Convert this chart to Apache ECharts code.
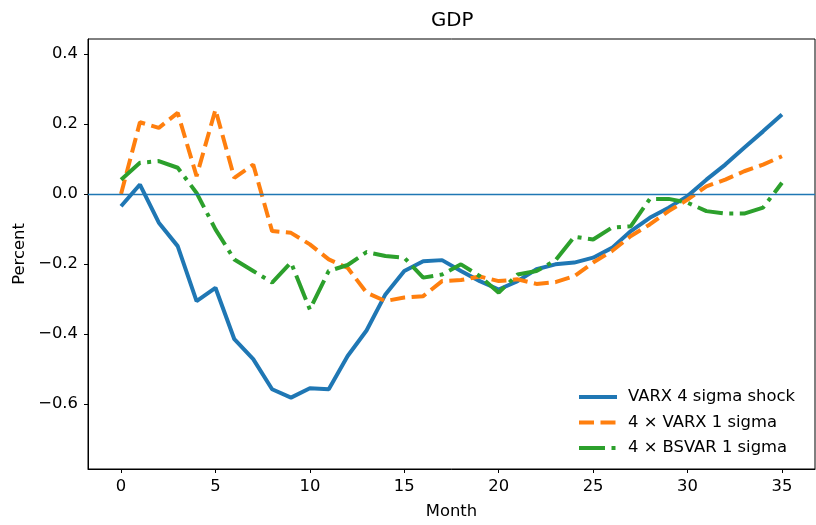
<!DOCTYPE html>
<html>
<head>
<meta charset="utf-8">
<script src="https://cdn.jsdelivr.net/npm/echarts@6/dist/echarts.min.js"></script>
<style>
html,body{margin:0;padding:0;background:#fff;}
#chart{width:816px;height:525px;}
</style>
</head>
<body>
<div id="chart"></div>
<script>
const months = [0,1,2,3,4,5,6,7,8,9,10,11,12,13,14,15,16,17,18,19,20,21,22,23,24,25,26,27,28,29,30,31,32,33,34,35];
const varx4Sigma = [-0.035,0.027,-0.082,-0.149,-0.306,-0.268,-0.415,-0.472,-0.558,-0.582,-0.555,-0.558,-0.463,-0.39,-0.287,-0.22,-0.192,-0.189,-0.22,-0.249,-0.273,-0.249,-0.215,-0.201,-0.196,-0.182,-0.154,-0.106,-0.068,-0.039,-0.006,0.041,0.084,0.132,0.179,0.227];
const varx1SigmaX4 = [0.0,0.205,0.189,0.232,0.051,0.241,0.046,0.084,-0.106,-0.111,-0.144,-0.187,-0.211,-0.282,-0.306,-0.296,-0.292,-0.249,-0.246,-0.236,-0.249,-0.244,-0.257,-0.252,-0.235,-0.196,-0.163,-0.12,-0.087,-0.049,-0.016,0.022,0.041,0.065,0.084,0.108];
const bsvar1SigmaX4 = [0.041,0.089,0.094,0.075,0.003,-0.101,-0.187,-0.22,-0.253,-0.196,-0.33,-0.22,-0.203,-0.166,-0.177,-0.182,-0.239,-0.23,-0.201,-0.235,-0.282,-0.23,-0.22,-0.19,-0.122,-0.13,-0.096,-0.092,-0.014,-0.014,-0.025,-0.049,-0.056,-0.056,-0.039,0.032];
const seriesNames = ['VARX 4 sigma shock','4 \u00d7 VARX 1 sigma','4 \u00d7 BSVAR 1 sigma'];
const xTicks = [0,5,10,15,20,25,30,35];
const yTicks = [-0.6,-0.4,-0.2,0.0,0.2,0.4];

const FONT = 'DejaVu Sans';
const FS = 16.4;
const pairs = arr => months.map((m,i)=>[m,arr[i]]);
const chart = echarts.init(document.getElementById('chart'), null, {renderer:'canvas'});
chart.setOption({
  animation:false,
  backgroundColor:'#ffffff',
  title:{text:'GDP', left:431, top:11, padding:0, textStyle:{fontFamily:FONT,fontSize:19.8,fontWeight:'normal',color:'#000'}},
  grid:{left:88, right:1, top:39, bottom:55, show:true, borderColor:'#000', borderWidth:1, backgroundColor:'transparent'},
  legend:{
    orient:'vertical', left:577, top:389, itemWidth:38, itemHeight:16, itemGap:9.5, padding:0,
    data:seriesNames,
    itemStyle:{opacity:0},
    lineStyle:{width:4},
    textStyle:{fontFamily:FONT,fontSize:FS,color:'#000',padding:[0,0,0,6]}
  },
  xAxis:{
    type:'value', min:-1.75, max:36.75,
    name:'Month', nameLocation:'middle', nameGap:35,
    nameTextStyle:{fontFamily:FONT,fontSize:FS,color:'#000'},
    splitLine:{show:false},
    axisLine:{show:true,onZero:false,lineStyle:{color:'#000',width:1}},
    axisTick:{show:true,length:4,lineStyle:{color:'#000',width:1},customValues:xTicks},
    axisLabel:{fontFamily:FONT,fontSize:FS,color:'#000',margin:10,customValues:xTicks,formatter:v=>String(v)}
  },
  yAxis:{
    type:'value', min:-0.786, max:0.443,
    name:'Percent', nameLocation:'middle', nameGap:60,
    nameTextStyle:{fontFamily:FONT,fontSize:FS,color:'#000'},
    splitLine:{show:false},
    axisLine:{show:true,onZero:false,lineStyle:{color:'#000',width:1}},
    axisTick:{show:true,length:4,lineStyle:{color:'#000',width:1},customValues:yTicks},
    axisLabel:{fontFamily:FONT,fontSize:FS,color:'#000',margin:10,customValues:yTicks,
      formatter:v=>{const s=Math.abs(v).toFixed(1); return (v< -1e-9?'\u2212':'')+s;}}
  },
  series:[
    {type:'line', name:'zero', data:[], silent:true, z:1,
      markLine:{silent:true, symbol:'none', label:{show:false}, lineStyle:{color:'#1f77b4',width:1.4,type:'solid'}, data:[{yAxis:0}]}},
    {type:'line', name:seriesNames[0], data:pairs(varx4Sigma), symbol:'none', z:3,
      lineStyle:{color:'#1f77b4',width:4,type:'solid'}, itemStyle:{color:'#1f77b4'}},
    {type:'line', name:seriesNames[1], data:pairs(varx1SigmaX4), symbol:'none', z:3,
      lineStyle:{color:'#ff7f0e',width:4,type:[15,6.5],cap:'butt'}, itemStyle:{color:'#ff7f0e'}},
    {type:'line', name:seriesNames[2], data:pairs(bsvar1SigmaX4), symbol:'none', z:3,
      lineStyle:{color:'#2ca02c',width:4,type:[26,6.5,4,6.5],cap:'butt'}, itemStyle:{color:'#2ca02c'}}
  ]
});
</script>
</body>
</html>
